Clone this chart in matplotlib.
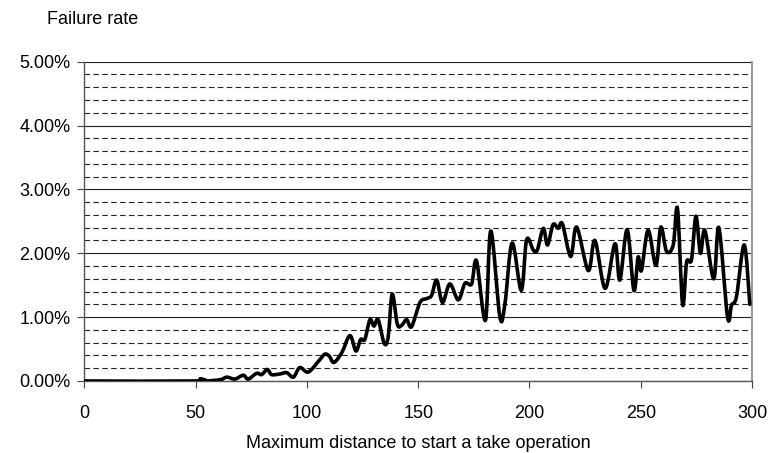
import matplotlib
matplotlib.use("Agg")
import matplotlib.pyplot as plt
from matplotlib.path import Path
from matplotlib.patches import PathPatch
from matplotlib.ticker import MultipleLocator, FuncFormatter

# distance values and failure rate (%)
distance = [0, 50, 52, 54, 61, 64, 67.6, 71.4, 73.6, 77.4, 79.6, 82.2, 84.1,
            87.9, 90.9, 93.9, 96.8, 100.6, 105.7, 108, 110, 112.1, 115.6,
            119.3, 122, 124.1, 126, 128.3, 130.1, 132, 134.7, 136.5, 138.3,
            140.6, 142.5, 144.8, 147, 150.8, 153.8, 156, 158.3, 160.9, 164.2,
            168, 171, 174, 176.2, 180.2, 182.6, 186.7, 189, 192.2, 196.3,
            198.7, 201.7, 203.5, 206.2, 208.1, 210.6, 212.9, 214.8, 218.5,
            221.2, 226.4, 229.4, 234, 238.4, 240.6, 243.9, 246.9, 248.8,
            250.3, 253.3, 256.8, 259, 261.6, 264.6, 266.5, 268.8, 270.6,
            272.8, 274.8, 276.8, 278.8, 282.8, 285.1, 289, 290.8, 293, 296.5,
            299]
failure = [0, 0, 0.036, 0, 0.02, 0.06, 0.03, 0.09, 0.03, 0.12, 0.10, 0.18,
           0.10, 0.11, 0.13, 0.06, 0.21, 0.14, 0.33, 0.42, 0.39, 0.29, 0.44,
           0.71, 0.47, 0.65, 0.65, 0.96, 0.86, 0.96, 0.59, 0.69, 1.36, 0.89,
           0.87, 0.96, 0.85, 1.23, 1.29, 1.34, 1.58, 1.23, 1.52, 1.27, 1.53,
           1.52, 1.88, 0.95, 2.35, 1.00, 1.22, 2.16, 1.42, 2.21, 2.05, 2.05,
           2.39, 2.13, 2.45, 2.39, 2.46, 1.95, 2.41, 1.73, 2.20, 1.45, 2.15,
           1.58, 2.37, 1.42, 1.94, 1.73, 2.36, 1.81, 2.41, 2.03, 2.13, 2.70,
           1.20, 1.86, 1.90, 2.58, 2.00, 2.36, 1.60, 2.40, 1.00, 1.19, 1.32,
           2.13, 1.20]


def smooth_path(xs, ys):
    # spreadsheet-style smoothed line: cubic bezier through every point
    n = len(xs)
    verts = [(xs[0], ys[0])]
    codes = [Path.MOVETO]
    for i in range(n - 1):
        x0, y0 = xs[max(i - 1, 0)], ys[max(i - 1, 0)]
        x1, y1 = xs[i], ys[i]
        x2, y2 = xs[i + 1], ys[i + 1]
        x3, y3 = xs[min(i + 2, n - 1)], ys[min(i + 2, n - 1)]
        verts += [(x1 + (x2 - x0) / 6, y1 + (y2 - y0) / 6),
                  (x2 - (x3 - x1) / 6, y2 - (y3 - y1) / 6),
                  (x2, y2)]
        codes += [Path.CURVE4] * 3
    return Path(verts, codes)


plt.rcParams['font.family'] = ['Liberation Sans', 'DejaVu Sans']

fig = plt.figure(figsize=(7.71, 4.53), dpi=100)
ax = fig.add_axes([0.1095, 0.159, 0.8659, 0.7048])

curve = PathPatch(smooth_path(distance, failure), facecolor='none',
                  edgecolor='black', linewidth=2.6, joinstyle='round',
                  capstyle='round', zorder=3)
ax.add_patch(curve)

ax.set_xlim(0, 300)
ax.set_ylim(0, 5)
ax.xaxis.set_major_locator(MultipleLocator(50))
ax.yaxis.set_major_locator(MultipleLocator(1))
ax.yaxis.set_minor_locator(MultipleLocator(0.2))
ax.yaxis.set_major_formatter(FuncFormatter(lambda v, p: f"{v:.2f}%"))

ax.grid(True, which='major', axis='y', color='#222222', linewidth=0.8,
        linestyle='-')
ax.grid(True, which='minor', axis='y', color='#222222', linewidth=0.8,
        linestyle=(0, (5, 3)))
ax.set_axisbelow(True)

ax.tick_params(axis='both', which='major', labelsize=13, length=5,
               width=0.8, color='#444444', direction='out')
ax.tick_params(axis='x', pad=12)
ax.tick_params(axis='y', pad=5)
ax.tick_params(axis='y', which='minor', length=0)

for side in ['left', 'bottom']:
    ax.spines[side].set_color('#555555')
    ax.spines[side].set_linewidth(1.0)
ax.spines['right'].set_color('#999999')
ax.spines['right'].set_linewidth(1.5)
ax.spines['top'].set_visible(False)

ax.set_xlabel('Maximum distance to start a take operation', fontsize=13,
              labelpad=10)
fig.text(47 / 771, 1 - 20 / 453, 'Failure rate', fontsize=13,
         ha='left', va='center')

fig.savefig('out.png', dpi=100)
